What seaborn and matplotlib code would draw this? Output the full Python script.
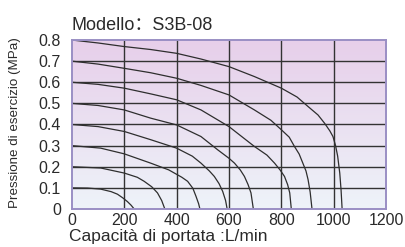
import numpy as np
import pandas as pd
import matplotlib
matplotlib.use("Agg")
import matplotlib.pyplot as plt
import seaborn as sns

# curves: flow (L/min) vs pressure (MPa), one per set pressure
p01_x = [0, 60, 110, 150, 174, 195, 212, 226, 238]
p01_y = [0.10, 0.099, 0.094, 0.082, 0.07, 0.052, 0.035, 0.018, 0.0]
p02_x = [0, 110, 200, 250, 276, 305, 327, 343, 355]
p02_y = [0.20, 0.194, 0.17, 0.15, 0.131, 0.105, 0.076, 0.04, 0.0]
p03_x = [0, 110, 200, 301, 370, 420, 442, 462, 474, 484, 489]
p03_y = [0.30, 0.288, 0.261, 0.217, 0.185, 0.15, 0.131, 0.098, 0.06, 0.025, 0.0]
p04_x = [0, 100, 200, 301, 400, 460, 493, 525, 544, 562, 576, 587, 593]
p04_y = [0.40, 0.39, 0.367, 0.328, 0.288, 0.25, 0.217, 0.18, 0.154, 0.12, 0.083, 0.04, 0.0]
p05_x = [0, 100, 200, 301, 400, 493, 557, 600, 621, 643, 659, 673, 684, 693]
p05_y = [0.50, 0.49, 0.469, 0.43, 0.398, 0.343, 0.28, 0.24, 0.217, 0.185, 0.154, 0.115, 0.076, 0.0]
p06_x = [0, 100, 200, 301, 400, 493, 600, 697, 745, 774, 795, 812, 824, 832, 838]
p06_y = [0.60, 0.59, 0.572, 0.545, 0.517, 0.469, 0.39, 0.296, 0.255, 0.217, 0.185, 0.154, 0.115, 0.076, 0.0]
p07_x = [0, 100, 200, 301, 400, 493, 600, 697, 760, 800, 830, 850, 868, 882, 894, 902, 910, 917]
p07_y = [0.70, 0.686, 0.666, 0.645, 0.619, 0.585, 0.54, 0.469, 0.42, 0.375, 0.34, 0.296, 0.26, 0.217, 0.18, 0.139, 0.08, 0.0]
p08_x = [0, 100, 200, 301, 400, 493, 600, 697, 800, 860, 902, 940, 965, 985, 997, 1007, 1015, 1023, 1028, 1032]
p08_y = [0.80, 0.786, 0.769, 0.755, 0.737, 0.71, 0.674, 0.627, 0.572, 0.53, 0.485, 0.445, 0.406, 0.37, 0.343, 0.30, 0.25, 0.17, 0.09, 0.0]

curves = [(p01_x, p01_y), (p02_x, p02_y), (p03_x, p03_y), (p04_x, p04_y),
          (p05_x, p05_y), (p06_x, p06_y), (p07_x, p07_y), (p08_x, p08_y)]

x_ticks = [0, 200, 400, 600, 800, 1000, 1200]
y_ticks = [0, 0.1, 0.2, 0.3, 0.4, 0.5, 0.6, 0.7, 0.8]
y_labels = ["0", "0.1", "0.2", "0.3", "0.4", "0.5", "0.6", "0.7", "0.8"]

sns.set_style("white")
plt.rcParams['font.family'] = ['Liberation Sans', 'DejaVu Sans']

fig = plt.figure(figsize=(4.06, 2.47), dpi=100)
ax = fig.add_axes([0.177, 0.154, 0.774, 0.684])

# background gradient: lavender at top, pale blue at bottom
top = np.array([231, 207, 234]) / 255.0
bot = np.array([238, 243, 249]) / 255.0
t = np.linspace(0, 1, 100)[:, None]
grad = (top * (1 - t) + bot * t)[:, None, :]
ax.imshow(grad, extent=[0, 1200, 0, 0.8], aspect='auto', zorder=0)

for xv in x_ticks[1:-1]:
    ax.axvline(xv, color='#333333', lw=1.0, zorder=1)
for yv in y_ticks[1:-1]:
    ax.axhline(yv, color='#333333', lw=1.0, zorder=1)

for cx, cy in curves:
    df = pd.DataFrame({"flow": cx, "pressure": cy})
    sns.lineplot(data=df, x="flow", y="pressure", ax=ax, color='#2e2e2e',
                 lw=0.9, sort=False, estimator=None, zorder=2)

ax.set_xlim(0, 1200)
ax.set_ylim(0, 0.8)
ax.set_xticks(x_ticks)
ax.set_yticks(y_ticks)
ax.set_yticklabels(y_labels)
ax.tick_params(length=0, labelsize=11.5, colors='#2a2a2a')
ax.tick_params(axis='x', pad=3)
ax.tick_params(axis='y', pad=8)
for s in ax.spines.values():
    s.set_color('#9a8fc4')
    s.set_linewidth(1.4)

ax.set_xlabel("")
ax.set_ylabel("")
fig.text(0.170, 0.025, "Capacità di portata :L/min", fontsize=12.5, color='#2a2a2a')
fig.text(0.037, 0.505, "Pressione di esercizio (MPa)", fontsize=9.6, rotation=90,
         va='center', ha='center', color='#2a2a2a')
fig.text(0.176, 0.88, "Modello：S3B-08", fontsize=13, color='#2a2a2a',
         family=['Liberation Sans', 'Noto Sans CJK SC'])

fig.savefig("out.png", dpi=100)
